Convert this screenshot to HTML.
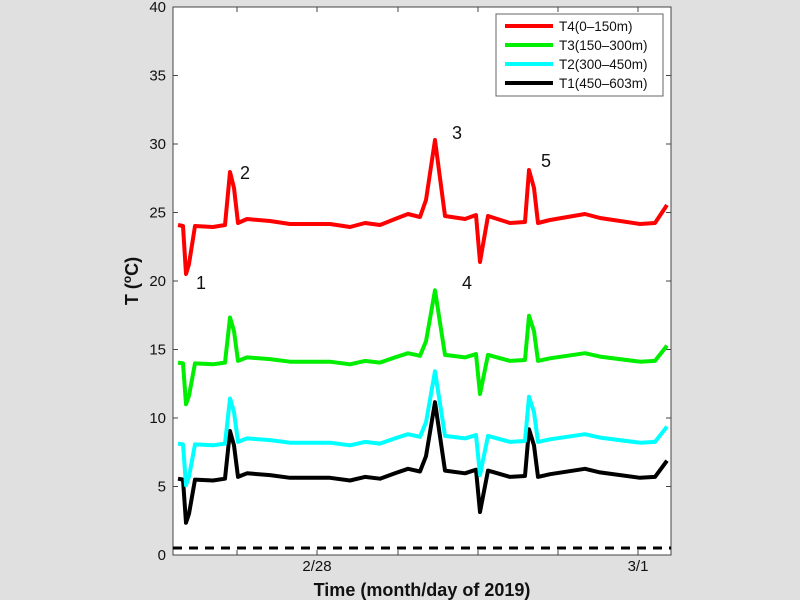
<!DOCTYPE html>
<html><head><style>
html,body{margin:0;padding:0;background:#e0e0e0;}
svg{display:block;font-family:"Liberation Sans",sans-serif;}
</style></head><body>
<svg width="800" height="600" viewBox="0 0 800 600">
<rect x="0" y="0" width="800" height="600" fill="#e0e0e0"/>
<rect x="173" y="7" width="498" height="548" fill="#fff" stroke="#444" stroke-width="1"/>
<g id="ticks" stroke="#444" stroke-width="1"></g>
<g id="series" fill="none" stroke-width="4" stroke-linejoin="round"></g>
<line x1="173" y1="548" x2="671" y2="548" stroke="#000" stroke-width="3" stroke-dasharray="9,7"/>
<g font-size="15" fill="#111" text-anchor="end" id="ylab"></g>
<text x="317" y="571" font-size="15" text-anchor="middle" fill="#111">2/28</text>
<text x="638" y="571" font-size="15" text-anchor="middle" fill="#111">3/1</text>
<text x="422" y="596" font-size="18" font-weight="bold" text-anchor="middle" fill="#111">Time (month/day of 2019)</text>
<text transform="translate(138,281) rotate(-90)" font-size="18" font-weight="bold" text-anchor="middle" fill="#111">T (<tspan font-size="12" dy="-7">o</tspan><tspan dy="7">C)</tspan></text>
<g font-size="18" fill="#111">
<text x="196" y="289">1</text><text x="240" y="179">2</text><text x="452" y="139">3</text><text x="462" y="289">4</text><text x="541" y="167">5</text>
</g>
<rect x="496" y="14" width="167" height="82" fill="#fff" stroke="#666" stroke-width="1"/>
<g stroke-width="4">
<line x1="505" y1="26" x2="553" y2="26" stroke="#ff0000"/>
<line x1="505" y1="45" x2="553" y2="45" stroke="#00ee00"/>
<line x1="505" y1="64" x2="553" y2="64" stroke="#00ffff"/>
<line x1="505" y1="83" x2="553" y2="83" stroke="#000"/>
</g>
<g font-size="13.5" fill="#111">
<text x="559" y="31">T4(0–150m)</text><text x="559" y="50">T3(150–300m)</text><text x="559" y="69">T2(300–450m)</text><text x="559" y="88">T1(450–603m)</text>
</g>
</svg>
<script>
var ns="http://www.w3.org/2000/svg";
function el(t,a,p){var e=document.createElementNS(ns,t);for(var k in a)e.setAttribute(k,a[k]);p.appendChild(e);return e;}
var tk=document.getElementById("ticks"),yl=document.getElementById("ylab");
for(var v=0;v<=40;v+=5){var y=555-v*13.7;el("line",{x1:173,y1:y,x2:178,y2:y},tk);el("line",{x1:666,y1:y,x2:671,y2:y},tk);
var t=el("text",{x:166,y:y+5},yl);t.textContent=v;}
[237,317,398,478,558,638].forEach(function(x){el("line",{x1:x,y1:555,x2:x,y2:550},tk);el("line",{x1:x,y1:7,x2:x,y2:12},tk);});
var P=[[178,225],[183,226],[186,274],[189,264],[195,226],[213,227],[225,225],[230,172],[234,188],[238,223],[247,219],[270,221],[290,224],[310,224],[330,224],[350,227],[365,223],[380,225],[395,219],[408,214],[420,217],[426,200],[435,140],[445,216],[465,219],[476,215],[480,262],[488,216],[510,223],[525,222],[529,170],[534,188],[538,223],[550,220],[585,214],[600,218],[640,224],[655,223],[667,205]];
var S=[["#000",476,0.9],["#00ffff",441,0.85],["#00ee00",360,0.85],["#ff0000",222,1]];
var g=document.getElementById("series");
S.forEach(function(s){var d=P.map(function(p,i){return (i?"L":"M")+p[0]+","+(s[1]+(p[1]-222)*s[2]).toFixed(1);}).join("");el("path",{d:d,stroke:s[0]},g);});
</script>
</body></html>
